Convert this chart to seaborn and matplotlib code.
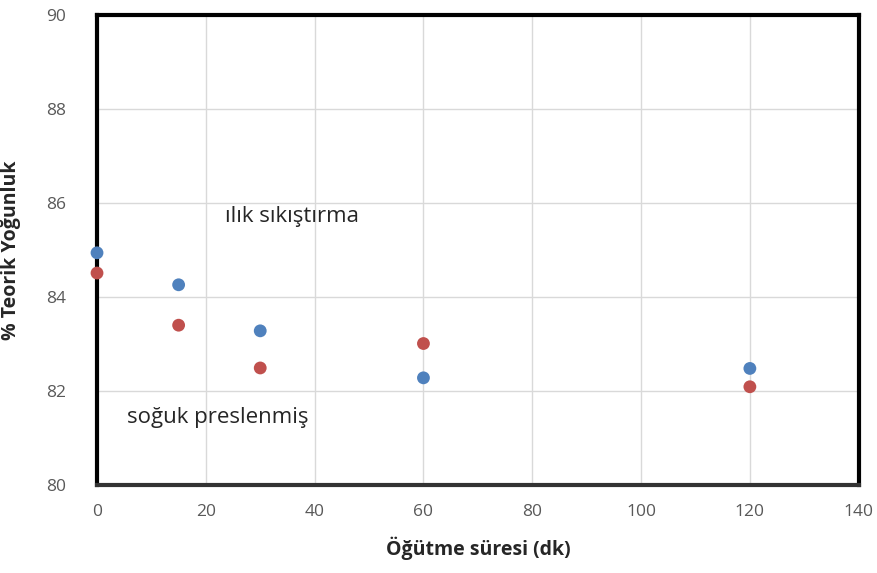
import matplotlib
matplotlib.use("Agg")
import matplotlib.pyplot as plt
import seaborn as sns
import pandas as pd

# Milling time (min) and % theoretical density for the two compaction routes
sure = [0, 15, 30, 60, 120]
ilik = [84.94, 84.26, 83.28, 82.28, 82.48]
soguk = [84.51, 83.40, 82.49, 83.01, 82.09]

xticks = [0, 20, 40, 60, 80, 100, 120, 140]
yticks = [80, 82, 84, 86, 88, 90]

df = pd.DataFrame({
    "sure": sure * 2,
    "yogunluk": ilik + soguk,
    "grup": ["ılık sıkıştırma"] * len(sure) + ["soğuk preslenmiş"] * len(sure),
})

sns.set_style("white")
plt.rcParams["font.family"] = ["Open Sans", "DejaVu Sans"]

fig = plt.figure(figsize=(8.78, 5.73), dpi=100)
ax = fig.add_axes([0.1105, 0.1536, 0.8675, 0.8202])

sns.scatterplot(
    data=df, x="sure", y="yogunluk", hue="grup",
    palette={"ılık sıkıştırma": "#4F81BD", "soğuk preslenmiş": "#C0504D"},
    s=85, edgecolor="none", legend=False, ax=ax, zorder=3, clip_on=False,
)

ax.set_xlim(0, 140)
ax.set_ylim(80, 90)
ax.set_xticks(xticks)
ax.set_yticks(yticks)
ax.grid(True, color="#d9d9d9", linewidth=1)
ax.set_axisbelow(True)

for side in ["top", "right", "left"]:
    ax.spines[side].set_color("black")
    ax.spines[side].set_linewidth(3)
    ax.spines[side].set_visible(True)
ax.spines["bottom"].set_color("#333333")
ax.spines["bottom"].set_linewidth(3)
ax.spines["bottom"].set_visible(True)

ax.tick_params(axis="both", length=0, labelsize=12.5, labelcolor="#595959")
ax.tick_params(axis="x", pad=14)
ax.tick_params(axis="y", pad=22)

ax.set_xlabel("Öğütme süresi (dk)", fontsize=14, fontweight="bold", labelpad=12)
ax.set_ylabel("% Teorik Yoğunluk", fontsize=14, fontweight="bold", labelpad=18)

ax.text(23.6, 85.72, "ılık sıkıştırma", fontsize=16, va="center", ha="left", color="#262626")
ax.text(5.5, 81.43, "soğuk preslenmiş", fontsize=16, va="center", ha="left", color="#262626")

fig.savefig("out.png", dpi=100)
